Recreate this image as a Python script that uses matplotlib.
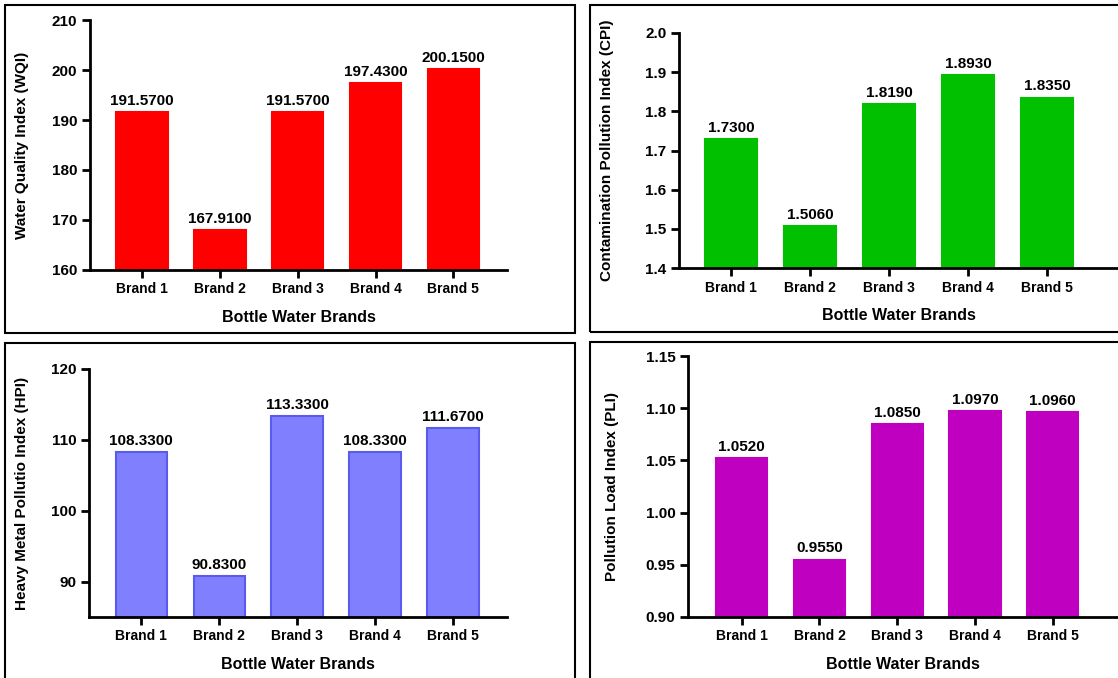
import matplotlib
matplotlib.use("Agg")
import matplotlib.pyplot as plt
from matplotlib.patches import Rectangle

plt.rcParams['font.family'] = ['Liberation Sans', 'DejaVu Sans']
plt.rcParams['font.weight'] = 'bold'

brands = ["Brand 1", "Brand 2", "Brand 3", "Brand 4", "Brand 5"]
wqi = [191.57, 167.91, 191.57, 197.43, 200.15]
cpi = [1.730, 1.506, 1.819, 1.893, 1.835]
hpi = [108.33, 90.83, 113.33, 108.33, 111.67]
pli = [1.052, 0.955, 1.085, 1.097, 1.096]

W, H = 1118, 678
fig = plt.figure(figsize=(W / 100, H / 100), dpi=100)


def px_rect(x0, y0, x1, y1):
    # pixel box (top-left origin) -> figure fraction [l, b, w, h]
    return [x0 / W, 1 - y1 / H, (x1 - x0) / W, (y1 - y0) / H]


# panel frames
for x0, y0, x1, y1 in [(5, 5, 575, 333), (590, 5, 1130, 332),
                       (5, 343, 575, 690), (590, 342, 1130, 690)]:
    l, b, w, h = px_rect(x0, y0, x1, y1)
    fig.add_artist(Rectangle((l, b), w, h, transform=fig.transFigure,
                             fill=False, edgecolor='black', linewidth=1.5))

panels = [
    # values, ylabel, color, edge, axes box, ylim, yticks, xlim, fmt, ylabel x px
    (wqi, "Water Quality Index (WQI)", '#ff0000', '#ff0000', (90, 20, 507, 270),
     (160, 210), [160, 170, 180, 190, 200, 210], (-0.67, 4.69), "{:.0f}", 22),
    (cpi, "Contamination Pollution Index (CPI)", '#00c000', '#00c000', (679, 33, 1118, 268),
     (1.4, 2.0), [1.4, 1.5, 1.6, 1.7, 1.8, 1.9, 2.0], (-0.66, 4.9), "{:.1f}", 607),
    (hpi, "Heavy Metal Pollutio Index (HPI)", '#8080ff', '#5a5aee', (89, 369, 507, 617),
     (85, 120), [90, 100, 110, 120], (-0.67, 4.69), "{:.0f}", 22),
    (pli, "Pollution Load Index (PLI)", '#c000c0', '#c000c0', (688, 356, 1118, 617),
     (0.90, 1.15), [0.90, 0.95, 1.00, 1.05, 1.10, 1.15], (-0.69, 4.84), "{:.2f}", 612),
]

for vals, ylab, color, edge, box, ylim, yticks, xlim, fmt, ylx in panels:
    ax = fig.add_axes(px_rect(*box))
    x = range(len(brands))
    bars = ax.bar(x, [v - ylim[0] for v in vals], bottom=ylim[0], width=0.66,
                  color=color, edgecolor=edge, linewidth=1.5)
    for xi, v in zip(x, vals):
        ax.annotate("{:.4f}".format(v), (xi, v), xytext=(0, 3), textcoords='offset points',
                    ha='center', va='bottom', fontsize=11, fontweight='bold')
    ax.set_ylim(*ylim)
    ax.set_xlim(*xlim)
    ax.set_yticks(yticks)
    ax.set_yticklabels([fmt.format(t) for t in yticks], fontsize=11, fontweight='bold')
    ax.set_xticks(list(x))
    ax.set_xticklabels(brands, fontsize=10, fontweight='bold')
    ax.spines['top'].set_visible(False)
    ax.spines['right'].set_visible(False)
    ax.spines['left'].set_linewidth(2)
    ax.spines['bottom'].set_linewidth(2)
    ax.tick_params(axis='both', width=2, length=6, pad=3)
    ax.set_ylabel(ylab, fontsize=11, fontweight='bold')
    ax.set_xlabel("Bottle Water Brands", fontsize=11.5, fontweight='bold', labelpad=10)
    cy = 1 - (box[1] + box[3]) / 2 / H
    ax.yaxis.set_label_coords(ylx / W, cy, transform=fig.transFigure)
    ax.yaxis.label.set_va('center')

fig.savefig("out.png", dpi=100)
